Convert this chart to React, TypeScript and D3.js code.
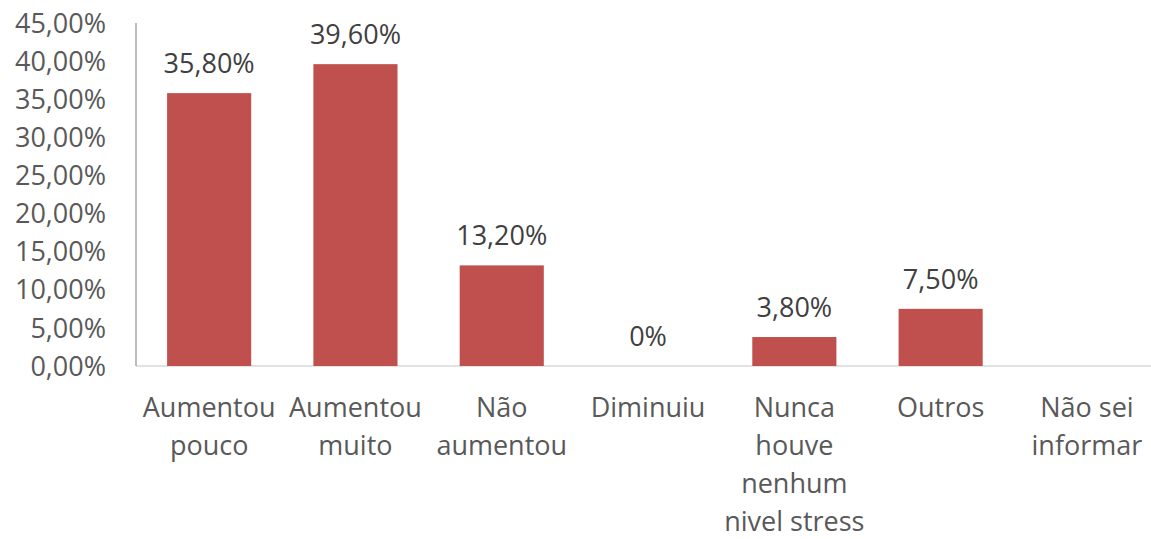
import React, { useEffect, useRef } from "react";
import * as d3 from "d3";

const categories = [
  "Aumentou pouco",
  "Aumentou muito",
  "Não aumentou",
  "Diminuiu",
  "Nunca houve nenhum nivel stress",
  "Outros",
  "Não sei informar",
];
const categoryLines = [
  ["Aumentou", "pouco"],
  ["Aumentou", "muito"],
  ["Não", "aumentou"],
  ["Diminuiu"],
  ["Nunca", "houve", "nenhum", "nivel stress"],
  ["Outros"],
  ["Não sei", "informar"],
];
const values: (number | null)[] = [35.8, 39.6, 13.2, 0, 3.8, 7.5, null];
const valueLabels = ["35,80%", "39,60%", "13,20%", "0%", "3,80%", "7,50%", ""];
const yTicks = [0, 5, 10, 15, 20, 25, 30, 35, 40, 45];
const yTickLabels = ["0,00%", "5,00%", "10,00%", "15,00%", "20,00%", "25,00%", "30,00%", "35,00%", "40,00%", "45,00%"];

const W = 1151;
const H = 539;
const FONT = "'Open Sans', sans-serif";
const TEXT = "#595959";

export default function App() {
  const ref = useRef<SVGSVGElement>(null);
  useEffect(() => {
    const svg = d3.select(ref.current);
    svg.selectAll("*").remove();
    const left = 136;
    const bandW = 146.3;
    const x = d3
      .scaleBand<string>()
      .domain(categories)
      .range([left, left + bandW * categories.length])
      .paddingInner(0.425)
      .paddingOuter(0.2125);
    const y = d3.scaleLinear().domain([0, 45]).range([366, 23]);

    // baseline
    svg
      .append("line")
      .attr("x1", left)
      .attr("x2", W)
      .attr("y1", y(0))
      .attr("y2", y(0))
      .attr("stroke", "#D9D9D9")
      .attr("stroke-width", 1.5);
    // y axis line
    svg
      .append("line")
      .attr("x1", left)
      .attr("x2", left)
      .attr("y1", y(45))
      .attr("y2", y(0))
      .attr("stroke", "#A6A6A6")
      .attr("stroke-width", 1.5);

    // y tick labels
    svg
      .append("g")
      .selectAll("text")
      .data(yTicks)
      .join("text")
      .attr("x", 106)
      .attr("y", (d) => y(d))
      .attr("dy", "0.36em")
      .attr("text-anchor", "end")
      .attr("font-family", FONT)
      .attr("font-size", 27)
      .attr("fill", TEXT)
      .text((_, i) => yTickLabels[i]);

    const data = categories.map((c, i) => ({ c, v: values[i], label: valueLabels[i], lines: categoryLines[i] }));

    // bars
    svg
      .append("g")
      .selectAll("rect")
      .data(data.filter((d) => d.v !== null && (d.v as number) > 0))
      .join("rect")
      .attr("x", (d) => x(d.c)!)
      .attr("width", x.bandwidth())
      .attr("y", (d) => y(d.v as number))
      .attr("height", (d) => y(0) - y(d.v as number))
      .attr("fill", "#C0504D");

    // value labels
    svg
      .append("g")
      .selectAll("text")
      .data(data.filter((d) => d.v !== null))
      .join("text")
      .attr("x", (d) => x(d.c)! + x.bandwidth() / 2)
      .attr("y", (d) => y(d.v as number) - 20)
      .attr("text-anchor", "middle")
      .attr("font-family", FONT)
      .attr("font-size", 27)
      .attr("fill", "#404040")
      .text((d) => d.label);

    // category labels
    const cat = svg
      .append("g")
      .selectAll("text")
      .data(data)
      .join("text")
      .attr("text-anchor", "middle")
      .attr("font-family", FONT)
      .attr("font-size", 27)
      .attr("fill", TEXT);
    cat
      .selectAll("tspan")
      .data((d) => d.lines.map((l) => ({ l, c: d.c })))
      .join("tspan")
      .attr("x", (d) => x(d.c)! + x.bandwidth() / 2)
      .attr("y", (_, i) => 417 + i * 38)
      .text((d) => d.l);
  }, []);
  return (
    <svg
      ref={ref}
      width={W}
      height={H}
      style={{ position: "absolute", left: 0, top: 0, background: "#fff" }}
    />
  );
}
